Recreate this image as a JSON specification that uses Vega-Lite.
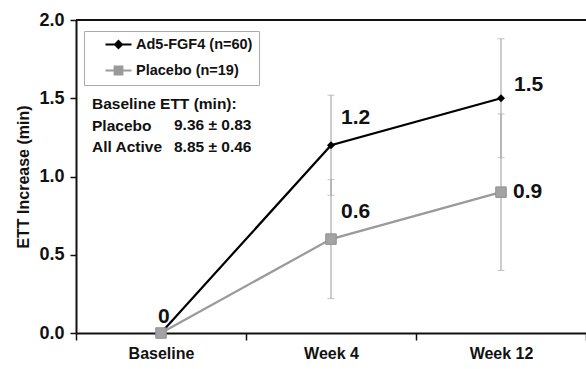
{
  "$schema": "https://vega.github.io/schema/vega-lite/v6.json",
  "width": 510,
  "height": 313,
  "autosize": "none",
  "padding": {"left": 76, "top": 20, "right": 0, "bottom": 36},
  "background": "white",
  "config": {
    "view": {"stroke": null},
    "font": "Liberation Sans",
    "axis": {"grid": false, "domainColor": "#111", "tickColor": "#111", "labelColor": "#111", "titleColor": "#111", "labelFontWeight": "bold", "titleFontWeight": "bold", "labelFont": "Liberation Sans", "titleFont": "Liberation Sans", "domainWidth": 2, "tickWidth": 1.5},
    "axisY": {"tickSize": 6, "labelFontSize": 18, "labelPadding": 6, "titleFontSize": 16, "titlePadding": 7},
    "axisX": {"tickSize": 7, "labelFontSize": 16, "labelPadding": 5},
    "legend": {"padding": 6, "rowPadding": 9, "labelFontSize": 14.5, "labelFontWeight": "bold", "labelColor": "#111", "symbolSize": 169, "symbolStrokeWidth": 2, "strokeColor": "#aaaaaa", "fillColor": "white"}
  },
  "data": {
    "values": [
      {"series": "Ad5-FGF4 (n=60)", "time": "Baseline", "value": 0, "lo": null, "hi": null},
      {"series": "Ad5-FGF4 (n=60)", "time": "Week 4", "value": 1.2, "lo": 0.88, "hi": 1.52},
      {"series": "Ad5-FGF4 (n=60)", "time": "Week 12", "value": 1.5, "lo": 1.12, "hi": 1.88},
      {"series": "Placebo (n=19)", "time": "Baseline", "value": 0, "lo": null, "hi": null},
      {"series": "Placebo (n=19)", "time": "Week 4", "value": 0.6, "lo": 0.22, "hi": 0.98},
      {"series": "Placebo (n=19)", "time": "Week 12", "value": 0.9, "lo": 0.4, "hi": 1.4}
    ]
  },
  "encoding": {
    "x": {
      "field": "time", "type": "nominal", "sort": ["Baseline", "Week 4", "Week 12"],
      "scale": {"domain": ["Baseline", "Week 4", "Week 12"], "paddingInner": 0, "paddingOuter": 0},
      "axis": {"title": null, "labelAngle": 0, "tickBand": "extent"}
    }
  },
  "layer": [
    {
      "data": {"values": [{}]},
      "mark": {"type": "rule", "color": "#111", "strokeWidth": 2},
      "encoding": {"x": null, "y": {"datum": 2, "type": "quantitative"}}
    },
    {
      "transform": [{"filter": "datum.lo != null"}],
      "mark": {"type": "errorbar", "color": "#aaaaaa", "thickness": 1.2, "ticks": {"size": 7, "color": "#aaaaaa", "thickness": 1}},
      "encoding": {
        "y": {"field": "lo", "type": "quantitative", "title": "ETT Increase (min)", "axis": {"values": [0, 0.5, 1, 1.5, 2], "format": ".1f"}},
        "y2": {"field": "hi"},
        "detail": {"field": "series"}
      }
    },
    {
      "mark": {"type": "line", "strokeWidth": 2.2},
      "encoding": {
        "y": {
          "field": "value", "type": "quantitative", "title": "ETT Increase (min)",
          "scale": {"domain": [0, 2]},
          "axis": {"values": [0, 0.5, 1, 1.5, 2], "format": ".1f"}
        },
        "color": {
          "field": "series", "type": "nominal",
          "scale": {"domain": ["Ad5-FGF4 (n=60)", "Placebo (n=19)"], "range": ["#000000", "#9a9a9a"]},
          "legend": {
            "title": null, "orient": "none", "legendX": 8, "legendY": 11,
            "labelOffset": 10, "symbolOffset": 21,
            "labelExpr": "datum.label + '\u00a0\u00a0\u00a0\u00a0\u00a0\u00a0\u00a0\u00a0\u00a0'",
            "encode": {"symbols": {"update": {"fill": {"scale": "color", "field": "value"}, "stroke": {"scale": "color", "field": "value"}, "opacity": {"value": 1}, "strokeWidth": {"value": 2}}}}
          }
        },
        "shape": {
          "field": "series", "type": "nominal",
          "scale": {"domain": ["Ad5-FGF4 (n=60)", "Placebo (n=19)"], "range": ["M-2,0H2M0,-0.55L0.55,0L0,0.55L-0.55,0Z", "M-2,0H2M-0.6,-0.6H0.6V0.6H-0.6Z"]},
          "legend": {
            "title": null, "orient": "none", "legendX": 8, "legendY": 11,
            "labelOffset": 10, "symbolOffset": 21,
            "labelExpr": "datum.label + '\u00a0\u00a0\u00a0\u00a0\u00a0\u00a0\u00a0\u00a0\u00a0'"
          }
        }
      }
    },
    {
      "transform": [{"filter": "datum.series == 'Ad5-FGF4 (n=60)'"}],
      "mark": {"type": "point", "shape": "diamond", "filled": true, "color": "#000", "size": 64, "opacity": 1},
      "encoding": {"y": {"field": "value", "type": "quantitative"}}
    },
    {
      "transform": [{"filter": "datum.series == 'Placebo (n=19)'"}],
      "mark": {"type": "point", "shape": "square", "filled": true, "color": "#a3a3a3", "stroke": "#8f8f8f", "strokeWidth": 1, "size": 110, "opacity": 1},
      "encoding": {"y": {"field": "value", "type": "quantitative"}}
    },
    {
      "transform": [{"filter": "datum.time == 'Week 4'"}],
      "mark": {"type": "text", "align": "left", "baseline": "middle", "dx": 10, "dy": -27, "fontSize": 21, "fontWeight": "bold", "color": "#111"},
      "encoding": {"y": {"field": "value", "type": "quantitative"}, "text": {"field": "value", "format": ".1f"}}
    },
    {
      "transform": [{"filter": "datum.time == 'Week 12' && datum.series == 'Ad5-FGF4 (n=60)'"}],
      "mark": {"type": "text", "align": "left", "baseline": "middle", "dx": 13, "dy": -13, "fontSize": 21, "fontWeight": "bold", "color": "#111"},
      "encoding": {"y": {"field": "value", "type": "quantitative"}, "text": {"field": "value", "format": ".1f"}}
    },
    {
      "transform": [{"filter": "datum.time == 'Week 12' && datum.series == 'Placebo (n=19)'"}],
      "mark": {"type": "text", "align": "left", "baseline": "middle", "dx": 12, "dy": 0, "fontSize": 21, "fontWeight": "bold", "color": "#111"},
      "encoding": {"y": {"field": "value", "type": "quantitative"}, "text": {"field": "value", "format": ".1f"}}
    },
    {
      "transform": [{"filter": "datum.time == 'Baseline' && datum.series == 'Placebo (n=19)'"}],
      "mark": {"type": "text", "align": "left", "baseline": "middle", "dx": -3, "dy": -16, "fontSize": 21, "fontWeight": "bold", "color": "#111"},
      "encoding": {"y": {"field": "value", "type": "quantitative"}, "text": {"field": "value", "format": "d"}}
    },
    {
      "data": {"values": [{}]},
      "mark": {"type": "text", "align": "left", "baseline": "middle", "dx": -69, "fontSize": 15.5, "fontWeight": "bold", "color": "#111", "lineHeight": 21.5, "text": ["Baseline ETT (min):", "Placebo", "All Active"]},
      "encoding": {"x": {"datum": "Baseline"}, "y": {"datum": 1.463, "type": "quantitative"}}
    },
    {
      "data": {"values": [{}]},
      "mark": {"type": "text", "align": "left", "baseline": "middle", "dx": 13, "fontSize": 15.5, "fontWeight": "bold", "color": "#111", "lineHeight": 21.5, "text": ["9.36 ± 0.83", "8.85 ± 0.46"]},
      "encoding": {"x": {"datum": "Baseline"}, "y": {"datum": 1.329, "type": "quantitative"}}
    }
  ]
}
